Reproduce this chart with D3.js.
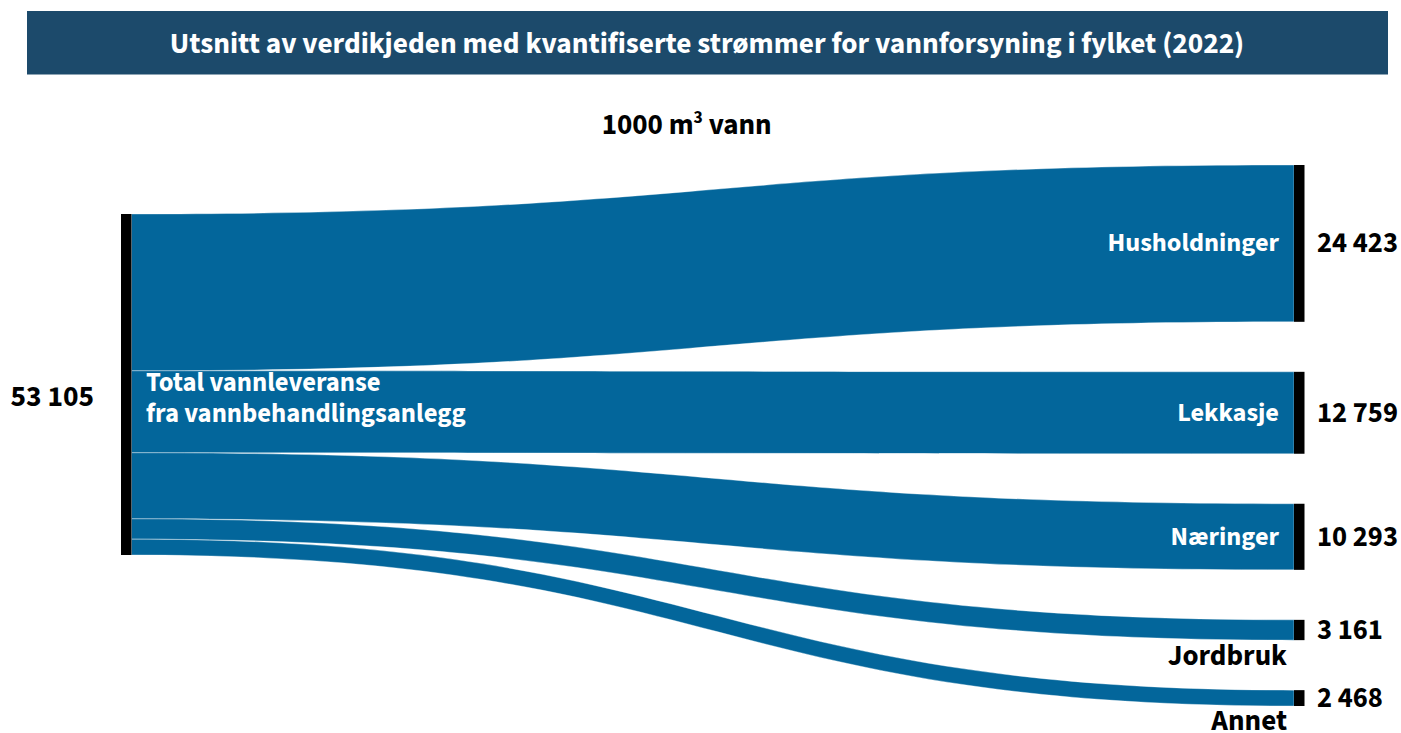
<!DOCTYPE html>
<html lang="no">
<head>
<meta charset="utf-8">
<title>Vannforsyning i fylket (2022)</title>
<script src="https://cdn.jsdelivr.net/npm/d3@7"></script>
<style>
  html, body { margin: 0; padding: 0; background: #ffffff; }
  svg { display: block; }
  text { font-family: "Source Sans Pro", "Source Sans 3", Lato, "Noto Sans", sans-serif; font-weight: 700; }
</style>
</head>
<body>
<div id="chart"></div>
<script>
// Flows of water (1000 m3) from treatment plants to user groups, 2022
const sourceLines = ["Total vannleveranse", "fra vannbehandlingsanlegg"];
const sourceValue = 53105;
const targetNames = ["Husholdninger", "Lekkasje", "Næringer", "Jordbruk", "Annet"];
const targetValues = [24423, 12759, 10293, 3161, 2468];
const titleText = "Utsnitt av verdikjeden med kvantifiserte strømmer for vannforsyning i fylket (2022)";
const unitText = ["1000 m", "3", " vann"];

const W = 1401, H = 733;
const svg = d3.select("#chart").append("svg").attr("width", W).attr("height", H);

const fmt = d3.formatLocale({ thousands: "\u00a0", grouping: [3], decimal: ",", currency: ["", ""] }).format(",d");

// Layout
const nodeWidth = 10.5;
const nodePadding = 50;
const sourceTop = 214;
const targetTop = 165;
const x = d3.scaleLinear().domain([0, 1]).range([121, 1294]);
const h = d3.scaleLinear().domain([0, sourceValue]).range([0, 341]);

const linkColor = "#03669b";
const headerColor = "#1c4a6b";

// Header band
svg.append("rect")
  .attr("x", 27).attr("y", 11).attr("width", 1361).attr("height", 63.5)
  .attr("fill", headerColor);
svg.append("text")
  .attr("x", 707).attr("y", 52.5)
  .attr("text-anchor", "middle")
  .attr("font-size", 29.3)
  .attr("fill", "#ffffff")
  .text(titleText);

// Unit line
const unit = svg.append("text")
  .attr("x", 686.7).attr("y", 134.3)
  .attr("text-anchor", "middle")
  .attr("font-size", 29)
  .attr("fill", "#000000");
unit.append("tspan").text(unitText[0]);
unit.append("tspan").attr("dy", -11).attr("font-size", 17.5).text(unitText[1]);
unit.append("tspan").attr("dy", 11).text(unitText[2]);

// Target node positions stacked with fixed padding
let acc = targetTop;
const targets = targetNames.map((name, i) => {
  const y0 = acc;
  const y1 = y0 + h(targetValues[i]);
  acc = y1 + nodePadding;
  return { name, value: targetValues[i], y0, y1 };
});

// Link bands
let sAcc = sourceTop;
const lx0 = x(0) + nodeWidth, lx1 = x(1);
const xm = d3.interpolateNumber(lx0, lx1)(0.5);
const links = targets.map(t => {
  const sy0 = sAcc, sy1 = sAcc + h(t.value);
  sAcc = sy1;
  const p = d3.path();
  p.moveTo(lx0, sy0);
  p.bezierCurveTo(xm, sy0, xm, t.y0, lx1, t.y0);
  p.lineTo(lx1, t.y1);
  p.bezierCurveTo(xm, t.y1, xm, sy1, lx0, sy1);
  p.closePath();
  return p.toString();
});

svg.append("g")
  .selectAll("path")
  .data(links)
  .join("path")
  .attr("d", d => d)
  .attr("fill", linkColor)
  .attr("stroke", "#ffffff")
  .attr("stroke-opacity", 0.6)
  .attr("stroke-width", 0.6);

// Nodes
const sourceNode = { y0: sourceTop, y1: sourceTop + h(sourceValue) };
svg.append("rect")
  .attr("x", x(0)).attr("y", sourceNode.y0)
  .attr("width", nodeWidth).attr("height", sourceNode.y1 - sourceNode.y0)
  .attr("fill", "#000000");

svg.append("g")
  .selectAll("rect")
  .data(targets)
  .join("rect")
  .attr("x", x(1)).attr("y", d => d.y0)
  .attr("width", nodeWidth).attr("height", d => d.y1 - d.y0)
  .attr("fill", "#000000");

// Source labels
const sMid = (sourceNode.y0 + sourceNode.y1) / 2 + 12.5;
svg.append("text")
  .attr("x", x(0) - 27).attr("y", sMid)
  .attr("text-anchor", "end")
  .attr("dominant-baseline", "central")
  .attr("font-size", 29.4)
  .attr("fill", "#000000")
  .text(fmt(sourceValue));

svg.append("g")
  .selectAll("text")
  .data(sourceLines)
  .join("text")
  .attr("x", x(0) + nodeWidth + 14.5)
  .attr("y", (d, i) => sMid - 6.3 + i * 31)
  .attr("font-size", 26.6)
  .attr("fill", "#ffffff")
  .text(d => d);

// Target value labels
svg.append("g")
  .selectAll("text")
  .data(targets)
  .join("text")
  .attr("x", x(1) + nodeWidth + 12.5)
  .attr("y", d => (d.y0 + d.y1) / 2)
  .attr("dominant-baseline", "central")
  .attr("font-size", 28.5)
  .attr("fill", "#000000")
  .text(d => fmt(d.value));

// Target name labels: inside the band when it is tall enough, otherwise below the node
const bandMin = 40;
const inside = d => (d.y1 - d.y0) > bandMin;
svg.append("g")
  .selectAll("text")
  .data(targets)
  .join("text")
  .attr("text-anchor", "end")
  .attr("font-size", d => inside(d) ? 26.3 : 29)
  .attr("fill", d => inside(d) ? "#ffffff" : "#000000")
  .attr("x", d => inside(d) ? x(1) - 15 : x(1) - 7)
  .attr("y", d => inside(d) ? (d.y0 + d.y1) / 2 : d.y1 + 24.5)
  .attr("dominant-baseline", d => inside(d) ? "central" : "auto")
  .text(d => d.name);
</script>
</body>
</html>
